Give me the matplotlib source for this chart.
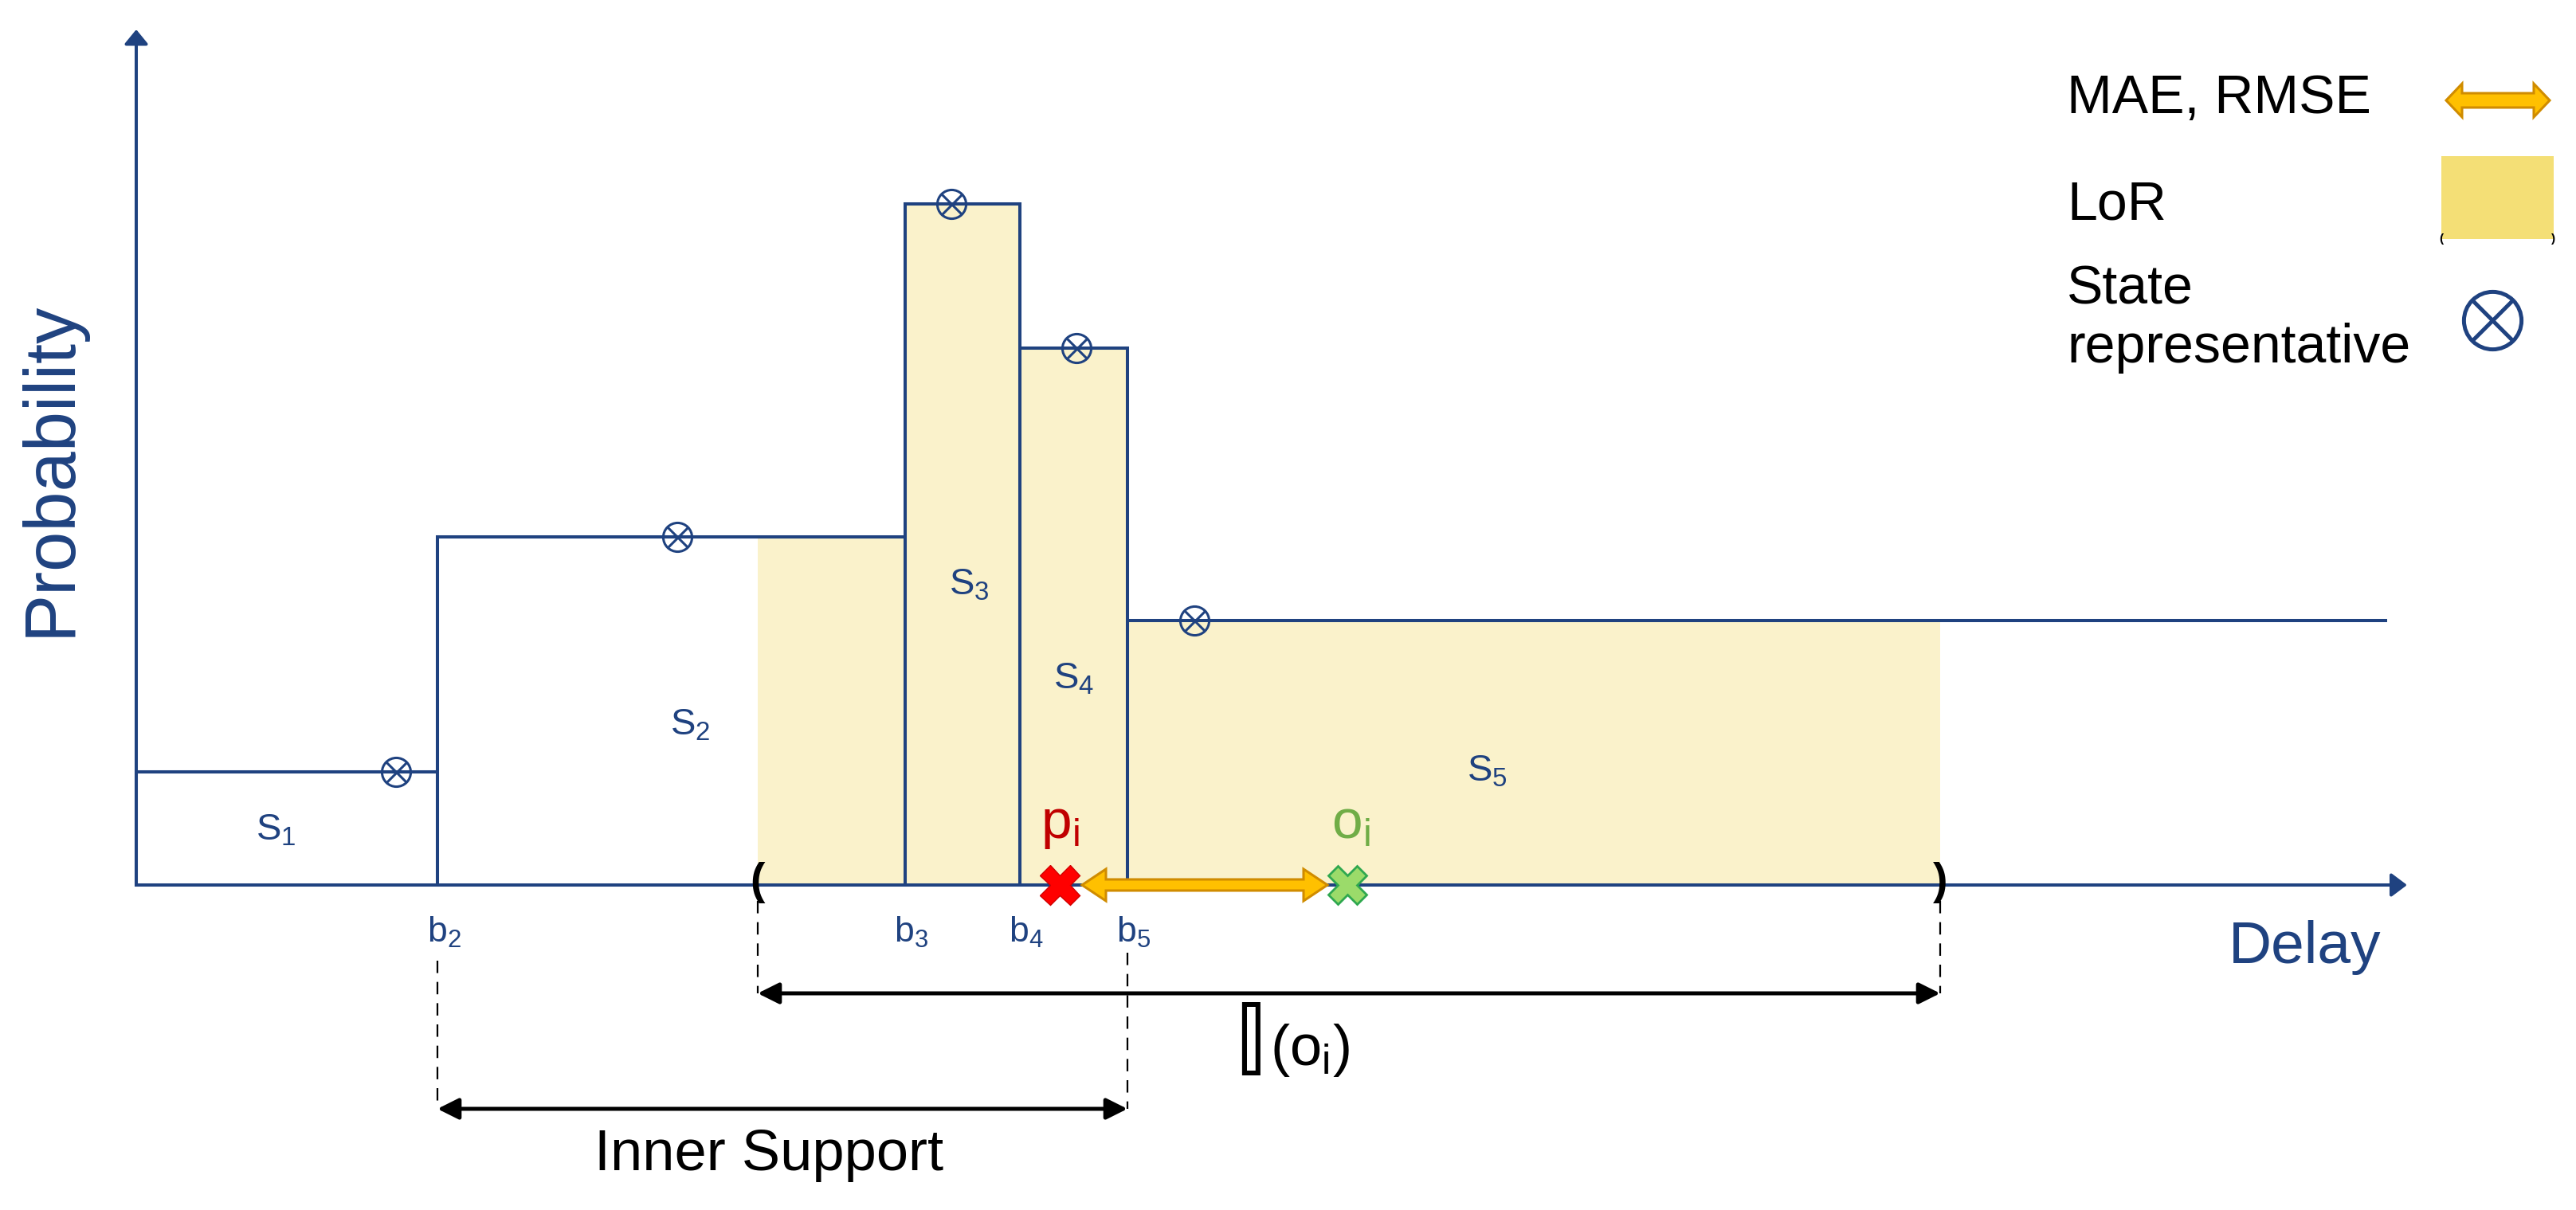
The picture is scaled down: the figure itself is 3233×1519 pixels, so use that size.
import matplotlib
matplotlib.use('Agg')
import matplotlib.pyplot as plt
from matplotlib.patches import Polygon, Rectangle, FancyArrowPatch

# ======================
# DATA (delay units on x, probability on y)
# ======================
bin_edges = [0.0, 3.78, 9.65, 11.09, 12.44, 28.25]
state_probs = [0.142, 0.437, 0.855, 0.674, 0.332]
state_reps = [3.26, 6.79, 10.23, 11.80, 13.28]
state_names = ['1', '2', '3', '4', '5']
boundary_names = ['2', '3', '4', '5']
lor_bounds = [7.80, 22.64]
prediction = 11.59
observation = 15.20

# ======================
# STYLE
# ======================
BLUE = '#1F4280'
FILL = '#FAF2CB'
LEG_FILL = '#F4DF76'
ORANGE = '#FFC000'
ORANGE_EDGE = '#D08C00'
RED = '#C00000'
GREEN = '#70AD47'

plt.rcParams['font.family'] = ['Liberation Sans', 'DejaVu Sans']
plt.rcParams['mathtext.fontset'] = 'custom'
plt.rcParams['mathtext.rm'] = 'Liberation Sans'
plt.rcParams['mathtext.it'] = 'Liberation Sans:italic'
plt.rcParams['mathtext.bf'] = 'Liberation Sans:bold'

W, H = 3233, 1519
X0, Y0 = 171, 1111          # pixel position of the origin


def px(x):                  # pixel column -> delay units
    return (x - X0) / 100.0


def py(y):                  # pixel row -> probability units
    return (Y0 - y) / 1000.0


fig = plt.figure(figsize=(W / 100, H / 100), dpi=100)
ax = fig.add_axes([0, 0, 1, 1])
ax.set_xlim(px(0), px(W))
ax.set_ylim(py(H), py(0))
ax.axis('off')


def block_arrow(x1, x2, y, shaft, head, head_len, **kw):
    s, h, L = shaft / 1000.0, head / 1000.0, head_len / 100.0
    verts = [(x1, y), (x1 + L, y + h), (x1 + L, y + s), (x2 - L, y + s),
             (x2 - L, y + h), (x2, y), (x2 - L, y - h), (x2 - L, y - s),
             (x1 + L, y - s), (x1 + L, y - h)]
    ax.add_patch(Polygon(verts, closed=True, **kw))


# ======================
# LOR SHADING (under the step function)
# ======================
lor_x = [lor_bounds[0]] + [e for e in bin_edges if lor_bounds[0] < e < lor_bounds[1]] + [lor_bounds[1]]
lor_y = []
for x in lor_x:
    for i in range(len(state_probs)):
        if bin_edges[i] <= x < bin_edges[i + 1]:
            lor_y.append(state_probs[i])
            break
ax.fill_between(lor_x, 0, lor_y, step='post', color=FILL, lw=0, zorder=1)

# ======================
# HISTOGRAM OUTLINE
# ======================
LW = 2.9
for i, p in enumerate(state_probs):
    ax.plot([bin_edges[i], bin_edges[i + 1]], [p, p], color=BLUE, lw=LW, zorder=3,
            solid_capstyle='butt')
for i in range(1, len(bin_edges) - 1):
    top = max(state_probs[i - 1], state_probs[i])
    ax.plot([bin_edges[i], bin_edges[i]], [0, top], color=BLUE, lw=LW, zorder=3)
ax.plot([0, 0], [0, state_probs[0]], color=BLUE, lw=LW, zorder=3)

# state representatives
ax.plot(state_reps, state_probs, 'o', ms=26, mfc='none', mec=BLUE, mew=2.2, zorder=4)
ax.plot(state_reps, state_probs, 'x', ms=18, mec=BLUE, mew=2.2, zorder=4)

# ======================
# AXES
# ======================
ax.add_patch(FancyArrowPatch((0, 0), (0, py(37)), arrowstyle='-|>,head_length=0.55,head_width=0.45',
                             mutation_scale=20, color=BLUE, lw=LW, shrinkA=0, shrinkB=0, zorder=3))
ax.add_patch(FancyArrowPatch((0, 0), (px(3021), 0), arrowstyle='-|>,head_length=0.6,head_width=0.45',
                             mutation_scale=20, color=BLUE, lw=LW, shrinkA=0, shrinkB=0, zorder=3))
ax.text(px(64), py(588), 'Probability', rotation=90, color=BLUE, fontsize=65,
        ha='center', va='center')
ax.text(px(2893), py(1190), 'Delay', color=BLUE, fontsize=54, ha='center', va='center')

# ======================
# LABELS
# ======================
s_pos = [(346, 1055), (866, 922), (1216, 747), (1348, 865), (1866, 980)]
for name, (x, y) in zip(state_names, s_pos):
    ax.text(px(x), py(y), 'S$_\\mathregular{' + name + '}$', color=BLUE, fontsize=34,
            ha='center', va='baseline', zorder=5)

for name, e in zip(boundary_names, bin_edges[1:5]):
    ax.text(e + 0.08, py(1183), 'b$_\\mathregular{' + name + '}$', color=BLUE, fontsize=32,
            ha='center', va='baseline')

# LoR brackets
ax.text(lor_bounds[0], py(1108), '(', fontsize=40, fontweight='bold', ha='center', va='center', zorder=5)
ax.text(lor_bounds[1], py(1108), ')', fontsize=40, fontweight='bold', ha='center', va='center', zorder=5)

# ======================
# PREDICTION / OBSERVATION
# ======================
block_arrow(prediction + 0.28, observation - 0.25, 0, 7, 20, 30,
            facecolor=ORANGE, edgecolor=ORANGE_EDGE, lw=2.2, zorder=6)
ax.plot([prediction], [0], 'X', ms=36, mfc='#FF0000', mec='#D00000', mew=1, zorder=7)
ax.plot([observation], [0], 'X', ms=34, mfc='#9BDB6A', mec='#2FA84F', mew=2, zorder=7)
ax.text(prediction, py(1052), 'p$_\\mathregular{i}$', color=RED, fontsize=50, ha='center', va='baseline')
ax.text(observation + 0.04, py(1052), 'o$_\\mathregular{i}$', color=GREEN, fontsize=50, ha='center', va='baseline')

# ======================
# SUPPORT ARROWS
# ======================
dash = dict(color='black', lw=1.6, linestyle=(0, (7, 5)))
ax.plot([lor_bounds[0]] * 2, [py(1131), py(1247)], **dash)
ax.plot([lor_bounds[1]] * 2, [py(1131), py(1247)], **dash)
ax.plot([bin_edges[1]] * 2, [py(1206), py(1392)], **dash)
ax.plot([bin_edges[4]] * 2, [py(1196), py(1392)], **dash)

arrow_kw = dict(arrowstyle='<|-|>,head_length=0.4,head_width=0.2', mutation_scale=40,
                color='black', lw=3.6, shrinkA=0, shrinkB=0)
ax.add_patch(FancyArrowPatch((lor_bounds[0], py(1247)), (lor_bounds[1], py(1247)), **arrow_kw))
ax.add_patch(FancyArrowPatch((bin_edges[1], py(1392)), (bin_edges[4], py(1392)), **arrow_kw))

ax.text(px(1592), py(1350), '\U0001D540', family=['STIXGeneral', 'DejaVu Sans'], fontsize=100,
        ha='right', va='baseline')
ax.text(px(1594), py(1318), '(o$_\\mathregular{i}$)', fontsize=52, ha='left', va='center')
ax.text(px(965), py(1450), 'Inner Support', fontsize=52, ha='center', va='center')

# ======================
# LEGEND
# ======================
ax.text(px(2594), py(124), 'MAE, RMSE', fontsize=49, ha='left', va='center')
block_arrow(px(3070), px(3200), py(126), 9, 21, 20,
            facecolor=ORANGE, edgecolor=ORANGE_EDGE, lw=2.2)

ax.text(px(2594), py(258), 'LoR', fontsize=49, ha='left', va='center')
ax.add_patch(Rectangle((px(3064), py(300)), px(3205) - px(3064), py(196) - py(300),
                       facecolor=LEG_FILL, edgecolor='none'))
ax.text(px(3064), py(300), '(', fontsize=11, fontweight='bold', ha='center', va='center')
ax.text(px(3205), py(300), ')', fontsize=11, fontweight='bold', ha='center', va='center')

ax.text(px(2594), py(363), 'State', fontsize=49, ha='left', va='center')
ax.text(px(2594), py(437), 'representative', fontsize=49, ha='left', va='center')
ax.plot([px(3128)], [py(402)], 'o', ms=52, mfc='none', mec=BLUE, mew=3.6)
ax.plot([px(3128)], [py(402)], 'x', ms=37, mec=BLUE, mew=3.6)

fig.savefig('out.png', dpi=100)
